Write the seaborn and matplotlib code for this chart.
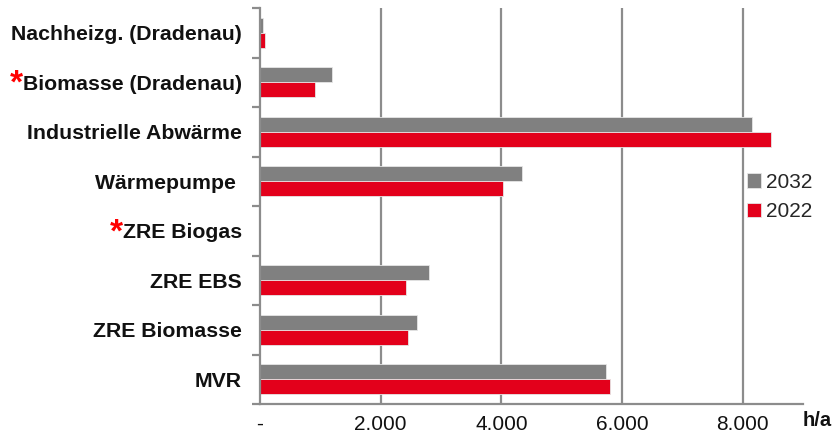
import matplotlib
matplotlib.use("Agg")
import matplotlib.pyplot as plt
from matplotlib.ticker import FixedLocator, FuncFormatter
import seaborn as sns
import pandas as pd

# Operating hours per plant (h/a)
categories = [
    "Nachheizg. (Dradenau)",
    "Biomasse (Dradenau)",
    "Industrielle Abwärme",
    "Wärmepumpe ",
    "ZRE Biogas",
    "ZRE EBS",
    "ZRE Biomasse",
    "MVR",
]
hours_2032 = [50, 1200, 8150, 4335, 0, 2800, 2600, 5735]
hours_2022 = [80, 905, 8470, 4030, 0, 2420, 2460, 5800]
years = ["2032", "2022"]
marked = ["Biomasse (Dradenau)", "ZRE Biogas"]
xticks = [0, 2000, 4000, 6000, 8000]

df = pd.DataFrame({
    "Anlage": categories * 2,
    "Jahr": [years[0]] * len(categories) + [years[1]] * len(categories),
    "Stunden": hours_2032 + hours_2022,
})

sns.set_theme(style="white")
plt.rcParams["font.family"] = ["Liberation Sans", "DejaVu Sans"]

GRID = "#8c8c8c"
palette = {"2032": "#808080", "2022": "#e3001b"}

fig = plt.figure(figsize=(8.34, 4.33), dpi=100)
ax = fig.add_axes([260 / 834, 1 - 404 / 433, 543 / 834, 396 / 433])

sns.barplot(
    data=df, y="Anlage", x="Stunden", hue="Jahr", hue_order=years,
    order=categories, palette=palette, orient="h", width=0.6,
    saturation=1, ax=ax, zorder=3, edgecolor="#e6e6e6", linewidth=0.6,
)

ax.set_xlim(0, 9000)
ax.set_ylim(len(categories) - 0.5, -0.5)
ax.set_xlabel("")
ax.set_ylabel("")

# vertical gridlines
for v in xticks[1:]:
    ax.axvline(v, color=GRID, lw=1.6, zorder=1)

for side in ["top", "right"]:
    ax.spines[side].set_visible(False)
for side in ["left", "bottom"]:
    ax.spines[side].set_color(GRID)
    ax.spines[side].set_linewidth(1.6)
    ax.spines[side].set_zorder(4)

# x axis ticks
ax.xaxis.set_major_locator(FixedLocator(xticks))
ax.xaxis.set_major_formatter(FuncFormatter(
    lambda v, p: "-" if v == 0 else f"{int(v):,}".replace(",", ".")))
ax.tick_params(axis="x", direction="out", length=5, width=1.6, color=GRID,
               labelsize=15, pad=3, labelcolor="#111111")

# y axis: labels at centers, ticks at category boundaries
ax.yaxis.set_minor_locator(FixedLocator([i - 0.5 for i in range(len(categories) + 1)]))
ax.tick_params(axis="y", which="major", length=0, pad=13, labelsize=15.3)
ax.tick_params(axis="y", which="minor", direction="out", length=6, width=1.6,
               color=GRID, left=True)
for lab in ax.get_yticklabels():
    lab.set_fontweight("bold")
    lab.set_color("#111111")

# legend
leg = ax.legend(loc="center left", bbox_to_anchor=(487 / 543, 1 - (197 - 8) / 396),
                frameon=False, fontsize=15, handlelength=0.68, handleheight=0.68,
                handletextpad=0.25, labelspacing=0.5, borderpad=0, borderaxespad=0)

fig.text(803 / 834, 1 - 421 / 433, "h/a", fontsize=14.5, fontweight="bold",
         ha="left", va="center", color="#111111")

# red asterisks in front of marked labels
fig.canvas.draw()
renderer = fig.canvas.get_renderer()
for lab in ax.get_yticklabels():
    if lab.get_text() in marked:
        bb = lab.get_window_extent(renderer)
        fig.text(bb.x0, bb.y1 + 6, "*", color="#ff0000", fontsize=24,
                 fontweight="bold", ha="right", va="top",
                 transform=None)

fig.savefig("out.png", dpi=100)
